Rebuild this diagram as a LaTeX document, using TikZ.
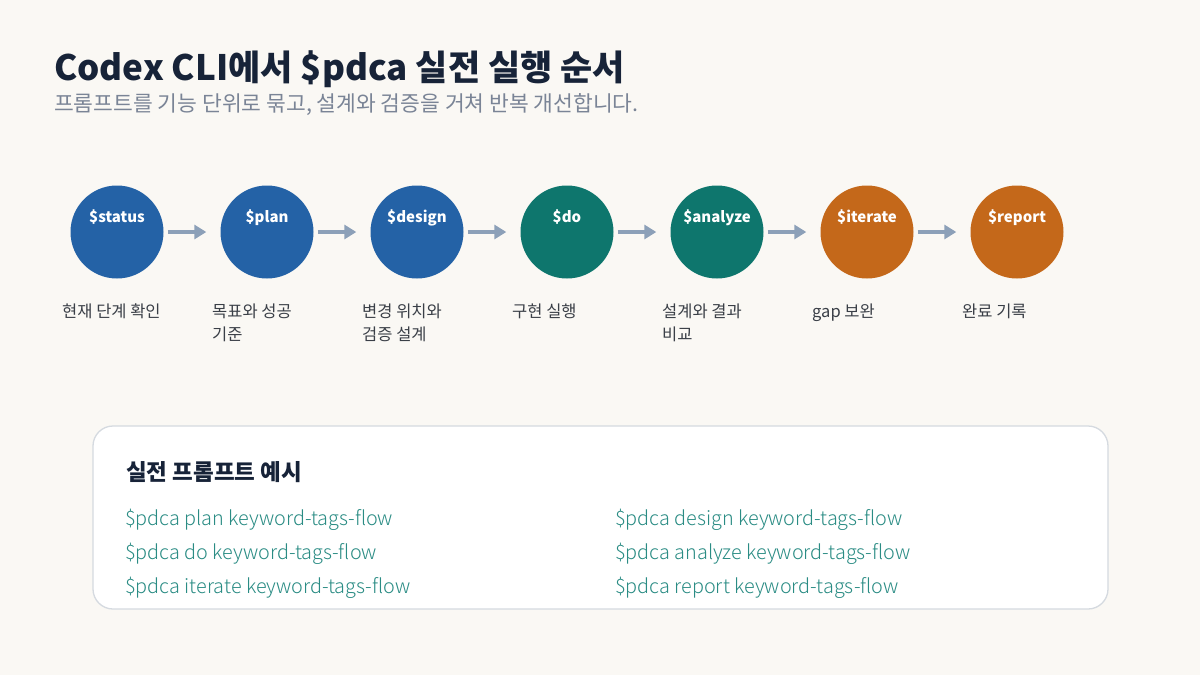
\documentclass[tikz,border=0pt]{standalone}
\usepackage{fontspec}
\setmainfont{Noto Sans CJK KR}
\newfontfamily\lightf{Noto Sans CJK KR Light}
\definecolor{bg}{HTML}{FAF8F4}
\definecolor{navy}{HTML}{172338}
\definecolor{sub}{HTML}{7A8496}
\definecolor{cblue}{HTML}{2462A6}
\definecolor{cteal}{HTML}{0E766D}
\definecolor{corange}{HTML}{C4681A}
\definecolor{arr}{HTML}{8CA0B8}
\definecolor{cap}{HTML}{3A3F47}
\definecolor{code}{HTML}{2A8C84}
\definecolor{boxl}{HTML}{D5DAE0}
\usetikzlibrary{arrows.meta}
\tikzset{
  stepc/.style={circle,minimum size=93pt,inner sep=0pt},
  lab/.style={text=white,font=\fontsize{15}{15}\selectfont\bfseries,anchor=base},
  capt/.style={anchor=north west,align=left,text=cap,font=\fontsize{16.5}{23}\selectfont,inner sep=0pt},
  link/.style={draw=arr,line width=4.5pt,-{Triangle[length=12pt,width=14pt]},shorten <=4pt,shorten >=14pt},
  cd/.style={anchor=base west,text=code,font=\lightf\fontsize{19.8}{20}\selectfont,inner sep=0pt}
}
\begin{document}
\begin{tikzpicture}[x=1pt,y=-1pt]
\fill[bg] (0,0) rectangle (1200,675);
\useasboundingbox (0,0) rectangle (1200,675);
\node[anchor=base west,inner sep=0pt,text=navy,font=\fontsize{35}{35}\selectfont\bfseries] (title) at (54,80) {Codex CLI에서 \$pdca 실전 실행 순서};
\node[anchor=base west,inner sep=0pt,text=sub,font=\fontsize{21.5}{21.5}\selectfont] (subt) at (54,111) {프롬프트를 기능 단위로 묶고, 설계와 검증을 거쳐 반복 개선합니다.};
\foreach \i/\n/\c/\t in {0/status/cblue/\$status,1/plan/cblue/\$plan,2/design/cblue/\$design,3/do/cteal/\$do,4/analyze/cteal/\$analyze,5/iterate/corange/\$iterate,6/report/corange/\$report}{
  \node[stepc,fill=\c] (\n) at (117+150*\i,232) {};
  \node[lab] (\n l) at (117+150*\i,222) {\t};
}
\foreach \a/\b in {status/plan,plan/design,design/do,do/analyze,analyze/iterate,iterate/report}
  \draw[link] (\a) -- (\b);
\node[capt] (c0) at (62,304) {현재 단계 확인};
\node[capt] (c1) at (212,304) {목표와 성공\\기준};
\node[capt] (c2) at (362,304) {변경 위치와\\검증 설계};
\node[capt] (c3) at (512,304) {구현 실행};
\node[capt] (c4) at (662,304) {설계와 결과\\비교};
\node[capt] (c5) at (812,304) {gap 보완};
\node[capt] (c6) at (962,304) {완료 기록};
\draw[boxl,fill=white,line width=1.3pt,rounded corners=20pt] (93,426) rectangle (1108,609);
\node[anchor=base west,inner sep=0pt,text=navy,font=\fontsize{22.5}{22}\selectfont\bfseries] (bt) at (126,480) {실전 프롬프트 예시};
\node[cd] (p1) at (125,525) {\$pdca plan keyword-tags-flow};
\node[cd] (p2) at (125,559) {\$pdca do keyword-tags-flow};
\node[cd] (p3) at (125,593) {\$pdca iterate keyword-tags-flow};
\node[cd] (p4) at (615,525) {\$pdca design keyword-tags-flow};
\node[cd] (p5) at (615,559) {\$pdca analyze keyword-tags-flow};
\node[cd] (p6) at (615,593) {\$pdca report keyword-tags-flow};
\end{tikzpicture}
\end{document}
